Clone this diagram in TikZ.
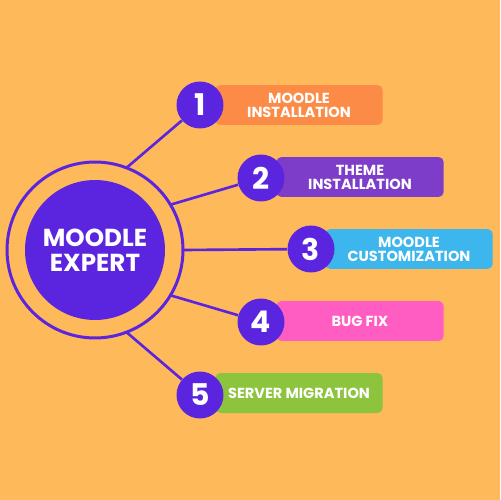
\documentclass[tikz,border=0pt]{standalone}
\usepackage{fontspec}
\setmainfont{Poppins}
\definecolor{bgorange}{HTML}{FEB95B}
\definecolor{violet}{HTML}{5B25DF}
\definecolor{boxorange}{HTML}{FC8B48}
\definecolor{boxpurple}{HTML}{7D3DC9}
\definecolor{boxblue}{HTML}{3CB6EC}
\definecolor{boxpink}{HTML}{FF5DC2}
\definecolor{boxgreen}{HTML}{8CC43E}
\begin{document}
\begin{tikzpicture}[x=0.02cm,y=-0.02cm,
  spoke/.style={violet,line width=1.5pt},
  num/.style={circle,fill=violet,text=white,minimum size=0.94cm,inner sep=0pt,font=\fontsize{17}{17}\selectfont\bfseries},
  item/.style={rounded corners=3pt,minimum width=3.35cm,minimum height=0.8cm,inner sep=0pt,text=white,align=center,font=\fontsize{8.3}{8}\selectfont\bfseries}]
\fill[bgorange] (0,0) rectangle (500,500);
% hub
\draw[violet,line width=1.7pt] (95,250) circle (1.76cm);
\node[circle,fill=violet,minimum size=2.8cm,inner sep=0pt,text=white,align=center,font=\fontsize{14}{14}\selectfont\bfseries] (hub) at (95,250) {MOODLE\\EXPERT};
\coordinate (r1) at (126.5,167.8);
\coordinate (r2) at (170.4,204.7);
\coordinate (r3) at (183,250);
\coordinate (r4) at (170.4,295.3);
\coordinate (r5) at (126.5,332.2);
% boxes
\node[item,fill=boxorange] (b1) at (299,105) {MOODLE\\INSTALLATION};
\node[item,fill=boxpurple] (b2) at (360,177) {THEME\\INSTALLATION};
\node[item,fill=boxblue] (b3) at (409,249) {MOODLE\\CUSTOMIZATION};
\node[item,fill=boxpink] (b4) at (360,321) {BUG FIX};
\node[item,fill=boxgreen] (b5) at (299,393) {SERVER MIGRATION};
% numbers
\node[num] (n1) at (200,105) {1};
\node[num] (n2) at (261,178) {2};
\node[num] (n3) at (311,249) {3};
\node[num] (n4) at (261,322) {4};
\node[num] (n5) at (200,395) {5};
\draw[spoke] (r1) -- (n1);
\draw[spoke] (r2) -- (n2);
\draw[spoke] (r3) -- (n3);
\draw[spoke] (r4) -- (n4);
\draw[spoke] (r5) -- (n5);
\end{tikzpicture}
\end{document}
